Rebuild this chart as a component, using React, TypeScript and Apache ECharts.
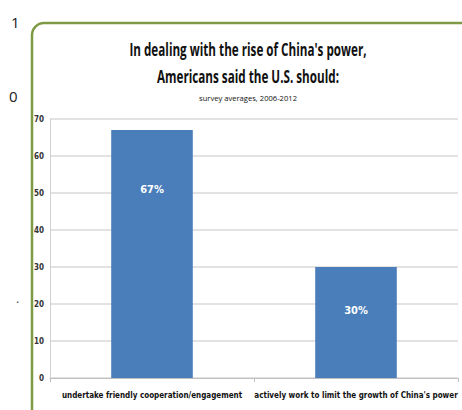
import React, { useEffect, useRef } from "react";
import * as echarts from "echarts";

const categories = [
  "undertake friendly cooperation/engagement",
  "actively work to limit the growth of China's power",
];
const values = [67, 30];
const valueLabels = ["67%", "30%"];
const labelDistances = [54, 38];
const yTicks = { min: 0, max: 70, interval: 10 };
const titleLines = ["In dealing with the rise of China's power,", "Americans said the U.S. should:"];
const subtitle = "survey averages, 2006-2012";

const FONT = "'Open Sans', sans-serif";
const COND = "'DejaVu Sans Condensed', 'Liberation Sans', sans-serif";

export default function App() {
  const ref = useRef<HTMLDivElement>(null);
  useEffect(() => {
    if (!ref.current) return;
    const chart = echarts.init(ref.current, undefined, { renderer: "svg" });
    const titleText = (text: string, y: number, font: string, sx: number) => ({
      type: "text",
      x: 248,
      y,
      scaleX: sx,
      style: { text, fill: "#111", font, align: "center", verticalAlign: "middle" },
    });
    chart.setOption({
      animation: false,
      backgroundColor: "#ffffff",
      graphic: [
        {
          type: "rect",
          shape: { x: 32, y: 23, width: 460, height: 420, r: 12 },
          style: { fill: "none", stroke: "#7f9a45", lineWidth: 2.5 },
          z: -1,
        },
        { type: "text", x: 11, y: 14, style: { text: "1", fill: "#222", font: "15px " + FONT } },
        { type: "text", x: 9, y: 88, style: { text: "0", fill: "#222", font: "15px " + FONT } },
        { type: "text", x: 16, y: 292, style: { text: ".", fill: "#444", font: "12px " + FONT } },
        titleText(titleLines[0], 49, "bold 17px " + FONT, 0.687),
        titleText(titleLines[1], 76, "bold 17px " + FONT, 0.687),
        titleText(subtitle, 98, "8px " + FONT, 0.95),
      ],
      grid: { left: 50, right: 4, top: 119, bottom: 32, containLabel: false },
      xAxis: {
        type: "category",
        data: categories,
        axisLine: { show: true, lineStyle: { color: "#bfbfbf", width: 1 } },
        axisTick: { show: true, alignWithLabel: false, length: 4, lineStyle: { color: "#bfbfbf" } },
        axisLabel: {
          color: "#111",
          fontFamily: COND,
          fontSize: 8,
          fontWeight: "bold",
          margin: 13,
          interval: 0,
        },
      },
      yAxis: {
        type: "value",
        min: yTicks.min,
        max: yTicks.max,
        interval: yTicks.interval,
        axisLine: { show: true, lineStyle: { color: "#d0d0d0" } },
        axisTick: { show: false },
        splitLine: { lineStyle: { color: "#d9d9d9", width: 1.5 } },
        axisLabel: { color: "#333", fontFamily: COND, fontSize: 8, fontWeight: "bold", margin: 6 },
      },
      series: [
        {
          type: "bar",
          barWidth: "40%",
          data: values.map((v, i) => ({
            value: v,
            label: {
              show: true,
              position: "insideTop",
              distance: labelDistances[i],
              formatter: valueLabels[i],
              color: "#ffffff",
              fontFamily: COND,
              fontSize: 11,
              fontWeight: "bold",
            },
          })),
          itemStyle: { color: "#4a7ebb" },
        },
      ],
    });
    return () => chart.dispose();
  }, []);
  return (
    <div
      ref={ref}
      style={{ position: "fixed", left: 0, top: 0, width: 462, height: 410 }}
    />
  );
}
